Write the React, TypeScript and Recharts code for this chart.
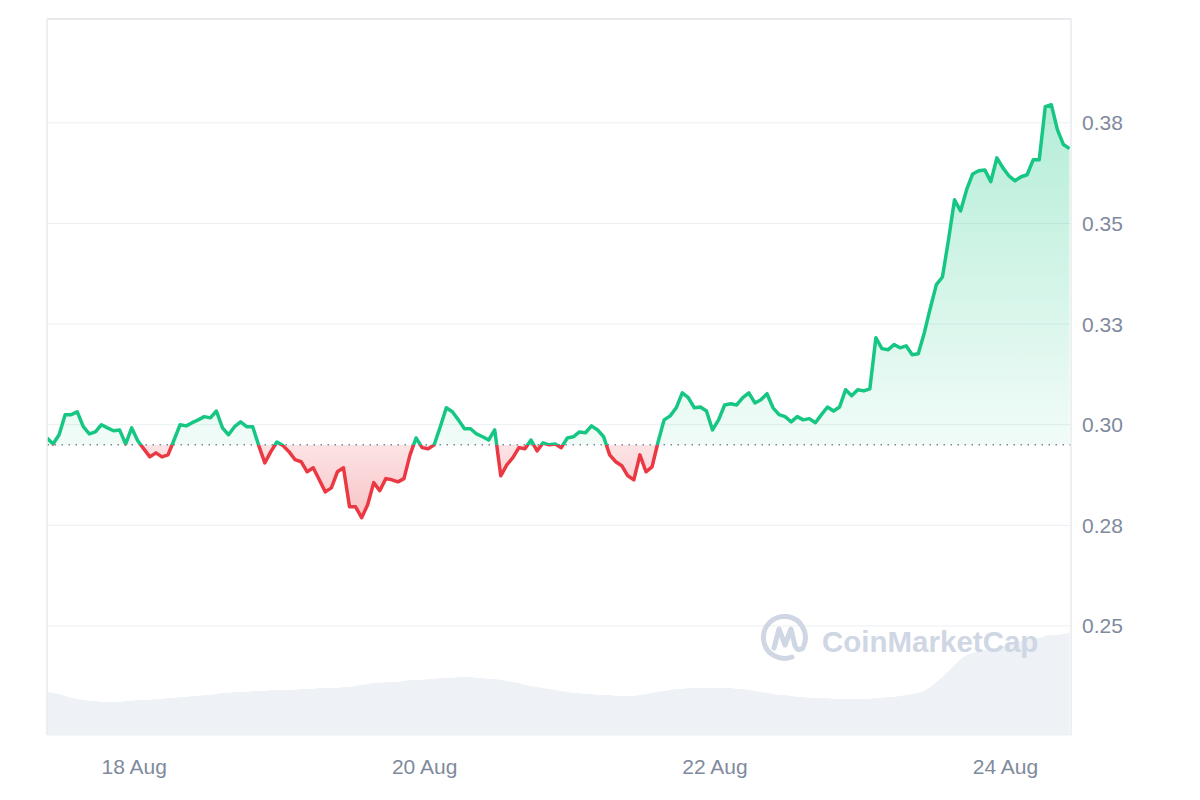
import { ComposedChart, Area, XAxis, YAxis, CartesianGrid, ReferenceLine } from 'recharts';

const HOUR = 3600000;
const START = Date.UTC(2023, 7, 17, 9, 35);
const END = START + 169.25 * HOUR;
const OPEN_PRICE = 0.295;

const MONTHS = ['Jan', 'Feb', 'Mar', 'Apr', 'May', 'Jun', 'Jul', 'Aug', 'Sep', 'Oct', 'Nov', 'Dec'];
const dayTicks = [Date.UTC(2023, 7, 18), Date.UTC(2023, 7, 20), Date.UTC(2023, 7, 22), Date.UTC(2023, 7, 24)];
const priceTicks = [0.25, 0.275, 0.3, 0.325, 0.35, 0.375];
const priceDomain = [0.2229, 0.4008];
const volumeDomain = [0, 716];

// hourly close prices
const prices = [
  0.2967, 0.2952, 0.2975, 0.3025, 0.3025, 0.3032, 0.2995, 0.2977, 0.2982, 0.3,
  0.2992, 0.2985, 0.2987, 0.2952, 0.2992, 0.296, 0.294, 0.292, 0.293, 0.292,
  0.2925, 0.2962, 0.3, 0.2997, 0.3005, 0.3012, 0.302, 0.3017, 0.3034, 0.2992,
  0.2975, 0.2995, 0.3007, 0.2995, 0.2995, 0.2948, 0.2905, 0.2933, 0.2957, 0.2948,
  0.2933, 0.2913, 0.2908, 0.2883, 0.2893, 0.2863, 0.2833, 0.2843, 0.2883, 0.2893,
  0.2796, 0.2796, 0.2769, 0.2801, 0.2856, 0.2836, 0.2866, 0.2863, 0.2858, 0.2866,
  0.2925, 0.2967, 0.2943, 0.294, 0.295, 0.2995, 0.3042, 0.3032, 0.3012, 0.299,
  0.299, 0.2977, 0.297, 0.2962, 0.2987, 0.2873, 0.29, 0.2918, 0.2943, 0.294,
  0.2962, 0.2935, 0.2955, 0.295, 0.2952, 0.2943, 0.2967, 0.297, 0.2982, 0.298,
  0.2997, 0.2987, 0.297, 0.2925, 0.2908, 0.2898, 0.2873, 0.2863, 0.2925, 0.2883,
  0.2895, 0.2957, 0.3012, 0.3022, 0.3042, 0.3079, 0.3067, 0.3042, 0.3044, 0.3034,
  0.2987, 0.3012, 0.3049, 0.3052, 0.3049, 0.3067, 0.3079, 0.3054, 0.3062, 0.3077,
  0.3042, 0.3025, 0.302, 0.3007, 0.302, 0.3012, 0.3015, 0.3005, 0.3025, 0.3044,
  0.3034, 0.3044, 0.3087, 0.3072, 0.3087, 0.3084, 0.3089, 0.3216, 0.3189, 0.3186,
  0.3199, 0.3191, 0.3196, 0.3174, 0.3176, 0.3228, 0.329, 0.3348, 0.3367, 0.3459,
  0.3559, 0.3531, 0.3584, 0.3623, 0.3631, 0.3633, 0.3604, 0.3663, 0.3638, 0.3618,
  0.3606, 0.3616, 0.3621, 0.3658, 0.3658, 0.379, 0.3795, 0.3733, 0.3696, 0.3686,
];

// 24h volume (millions)
const volumes = [
  43, 42, 41, 39, 37, 36, 35, 34, 34, 33,
  33, 33, 33, 34, 34, 35, 35, 35, 36, 36,
  37, 37, 38, 38, 39, 39, 40, 40, 41, 42,
  42, 43, 43, 43, 44, 44, 44, 45, 45, 45,
  45, 45, 46, 46, 46, 47, 47, 47, 47, 48,
  48, 49, 50, 51, 52, 52, 53, 53, 53, 54,
  55, 55, 55, 56, 56, 57, 57, 57, 58, 58,
  58, 57, 57, 56, 56, 55, 54, 53, 52, 50,
  49, 48, 47, 46, 45, 44, 43, 42, 42, 41,
  41, 40, 40, 40, 39, 39, 39, 39, 40, 41,
  42, 43, 44, 45, 46, 46, 47, 47, 47, 47,
  47, 47, 47, 47, 46, 46, 45, 44, 43, 42,
  41, 40, 40, 39, 38, 38, 37, 37, 37, 37,
  36, 36, 36, 36, 36, 36, 36, 37, 37, 38,
  38, 39, 40, 41, 42, 44, 48, 53, 58, 64,
  70, 76, 80, 82, 84, 85, 86, 87, 88, 90,
  92, 94, 95, 96, 97, 99, 100, 100, 101, 102,
];

const GREEN = '#16c784';
const RED = '#ea3943';
const AXIS_TEXT = '#808a9d';
const FRAME = '#e8eaee';

const fmtDay = (v: number) => {
  const d = new Date(v);
  return `${d.getUTCDate()} ${MONTHS[d.getUTCMonth()]}`;
};

const Watermark = () => (
  <svg width={1200} height={800} style={{ position: 'absolute', left: 0, top: 0, pointerEvents: 'none' }}>
    <g fill="none" stroke="#cfd6e4" strokeWidth={5} strokeLinecap="round" strokeLinejoin="round">
      <path d="M 804 645 A 21 21 0 1 0 792 657" />
      <path d="M 774 648 L 779 629 L 785 645 L 791 629 L 795 646 Q 798 652 803 648" />
    </g>
    <text x={822} y={652} fill="#cfd6e4" fontFamily="'Liberation Sans', Arial, sans-serif" fontWeight={700} fontSize={29.5}>
      CoinMarketCap
    </text>
  </svg>
);

export default function App() {
  const data = prices.map((p, i) => ({ t: START + i * HOUR, price: p, volume: volumes[i] }));
  const hi = Math.max(...prices);
  const lo = Math.min(...prices);
  const off = (hi - OPEN_PRICE) / (hi - lo);
  const tickStyle = { fill: AXIS_TEXT, fontSize: 21, fontFamily: "'Liberation Sans', Arial, sans-serif" };

  return (
    <div style={{ position: 'absolute', left: 0, top: 0, width: 1200, height: 800, background: '#fff' }}>
      <ComposedChart width={1200} height={800} data={data} margin={{ top: 19, right: 29, bottom: 0, left: 47 }}>
        <defs>
          <linearGradient id="priceStroke" x1="0" y1="0" x2="0" y2="1">
            <stop offset={0} stopColor={GREEN} />
            <stop offset={off} stopColor={GREEN} />
            <stop offset={off} stopColor={RED} />
            <stop offset={1} stopColor={RED} />
          </linearGradient>
          <linearGradient id="priceFill" x1="0" y1="0" x2="0" y2="1">
            <stop offset={0} stopColor={GREEN} stopOpacity={0.32} />
            <stop offset={off} stopColor={GREEN} stopOpacity={0.06} />
            <stop offset={off} stopColor={RED} stopOpacity={0.14} />
            <stop offset={1} stopColor={RED} stopOpacity={0.3} />
          </linearGradient>
        </defs>
        <CartesianGrid vertical={false} stroke="#eceff3" strokeWidth={1} />
        <XAxis
          dataKey="t"
          type="number"
          domain={[START, END]}
          ticks={dayTicks}
          tickFormatter={fmtDay}
          axisLine={false}
          tickLine={false}
          tickSize={0}
          tickMargin={24}
          height={65}
          tick={tickStyle}
          allowDataOverflow
        />
        <YAxis
          orientation="right"
          domain={priceDomain}
          ticks={priceTicks}
          tickFormatter={(v: number) => v.toFixed(2)}
          axisLine={false}
          tickLine={false}
          tickSize={0}
          tickMargin={11}
          width={100}
          tick={tickStyle}
          allowDataOverflow
        />
        <YAxis yAxisId="vol" hide domain={volumeDomain} />
        <Area
          yAxisId="vol"
          dataKey="volume"
          type="linear"
          stroke="none"
          fill="#eef1f5"
          fillOpacity={1}
          isAnimationActive={false}
          dot={false}
          activeDot={false}
        />
        <ReferenceLine y={OPEN_PRICE} stroke="#7d8596" strokeWidth={1.5} strokeDasharray="1.5 5.5" />
        <Area
          dataKey="price"
          type="linear"
          baseValue={OPEN_PRICE}
          stroke="url(#priceStroke)"
          strokeWidth={3.5}
          strokeLinejoin="round"
          fill="url(#priceFill)"
          fillOpacity={1}
          isAnimationActive={false}
          dot={false}
          activeDot={false}
        />
        <ReferenceLine y={priceDomain[1]} stroke={FRAME} strokeWidth={2} />
        <ReferenceLine x={START} stroke={FRAME} strokeWidth={1.5} />
        <ReferenceLine x={END} stroke={FRAME} strokeWidth={1.5} />
      </ComposedChart>
      <Watermark />
    </div>
  );
}
